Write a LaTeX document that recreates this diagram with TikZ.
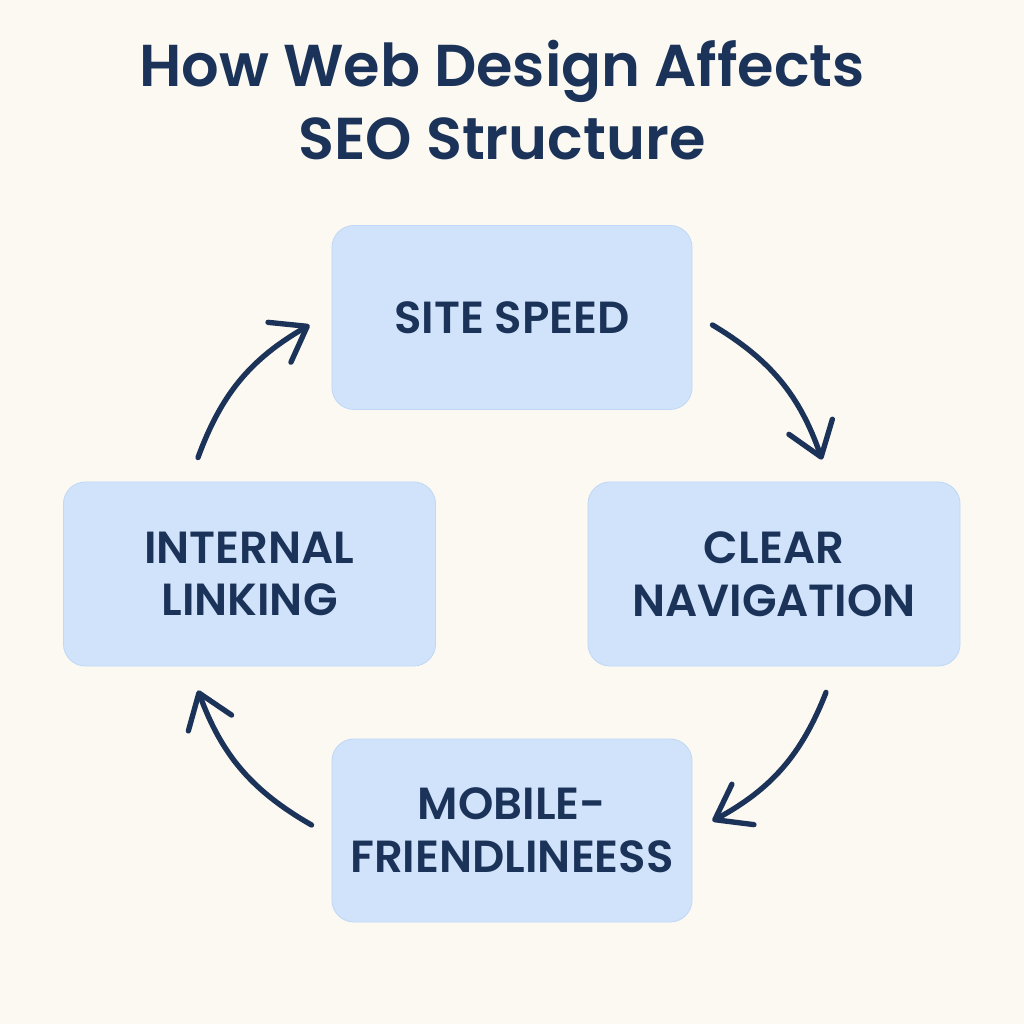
\documentclass[tikz,border=0pt]{standalone}
\usepackage{fontspec}
\setmainfont{Poppins}[BoldFont={* SemiBold}]
\usetikzlibrary{arrows.meta,calc}

\definecolor{seopaper}{RGB}{252,249,243}
\definecolor{seonavy}{RGB}{27,51,88}
\definecolor{seobox}{RGB}{208,227,250}
\definecolor{seoedge}{RGB}{192,216,245}

\begin{document}
\begin{tikzpicture}[
  x=0.025cm, y=0.025cm,
  topic/.style={
    rectangle,
    rounded corners=0.55cm,
    draw=seoedge,
    fill=seobox,
    line width=0.6pt,
    minimum width=9cm,
    minimum height=4.6cm,
    align=center,
    text=seonavy,
    font=\fontsize{32}{37.5}\selectfont\bfseries
  },
  flow/.style={
    draw=seonavy,
    line width=3.8pt,
    line cap=round,
    -{Straight Barb[length=0.8cm,width=1.15cm,line cap=round,line join=round]}
  }
]
\fill[seopaper] (0,0) rectangle (1024,1024);
\useasboundingbox (0,0) rectangle (1024,1024);

\node[text=seonavy, align=center, font=\fontsize{42}{52}\selectfont\bfseries]
  (title) at (502,924) {How Web Design Affects\\SEO Structure};

\node[topic] (speed) at (512,706.5) {SITE SPEED};
\node[topic, minimum width=9.3cm] (nav) at (774,450) {CLEAR\\NAVIGATION};
\node[topic, minimum height=4.575cm] (mobile) at (512,193.5) {MOBILE-\\FRIENDLINEESS};
\node[topic, minimum width=9.3cm] (link) at (249.5,450) {INTERNAL\\LINKING};

\foreach \from/\fromshift/\to/\toshift in {
  speed.east/{20,-7.5}/nav.north/{48,22},
  nav.south/{52,-26}/mobile.east/{20,9.5},
  mobile.west/{-20,5.5}/link.south/{-51.5,-24},
  link.north/{-51.5,24}/speed.west/{-22,-7.5}} {
  \draw[flow] ($(\from)+(\fromshift)$) to[bend left=20] ($(\to)+(\toshift)$);
}
\end{tikzpicture}
\end{document}
